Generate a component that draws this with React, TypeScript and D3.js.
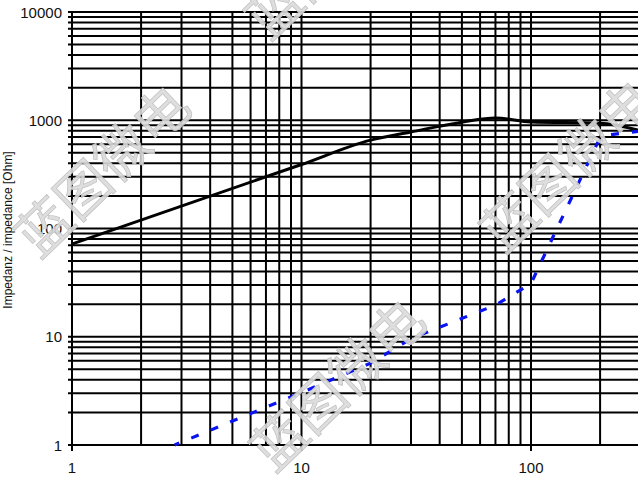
import React from "react";
import * as d3 from "d3";

const W = 638;
const H = 480;

// x: frequency, y: impedance (Ohm)
const solidX = [1, 10, 20, 30, 50, 70, 100, 200, 300];
const solidY = [72, 390, 655, 780, 960, 1050, 965, 940, 800];

const dashX = [2.8, 10, 20, 30, 70, 100, 195, 215, 300];
const dashY = [1, 3.05, 5.7, 9.6, 19.6, 31, 620, 730, 795];

const xTickLabels = [1, 10, 100];
const yTickLabels = [1, 10, 100, 1000, 10000];

const xGrid = [1, 2, 3, 4, 5, 6, 7, 8, 9, 10, 20, 30, 40, 50, 60, 70, 80, 90, 100, 200, 300];
const yGrid = (() => {
  const out: number[] = [];
  [1, 10, 100, 1000].forEach((d) => {
    for (let k = 1; k <= 9; k++) out.push(d * k);
  });
  out.push(10000);
  return out;
})();

const yAxisLabel = "Impedanz / impedance [Ohm]";
const watermarkText = "蓝图微电";
const watermarkCenters = [
  [100, 168],
  [335, 382],
  [565, 163],
  [330, -50],
];

export default function App() {
  const x = d3.scaleLog().domain([1, 300]).range([72, 72 + 229.5 * Math.log10(300)]);
  const y = d3.scaleLog().domain([1, 10000]).range([445, 12]);

  const solidLine = d3
    .line<[number, number]>()
    .x((d) => x(d[0]))
    .y((d) => y(d[1]))
    .curve(d3.curveMonotoneX);

  const dashLine = d3
    .line<[number, number]>()
    .x((d) => x(d[0]))
    .y((d) => y(d[1]));

  const solidPts = solidX.map((v, i) => [v, solidY[i]] as [number, number]);
  const dashPts = dashX.map((v, i) => [v, dashY[i]] as [number, number]);

  const majorX = new Set([1, 10, 100]);

  return (
    <svg
      width={W}
      height={H}
      style={{ position: "absolute", left: 0, top: 0, background: "#fff" }}
      fontFamily="'Liberation Sans', Arial, sans-serif"
    >
      <rect x={0} y={0} width={W} height={H} fill="#fff" />
      {yGrid.map((v) => (
        <line
          key={"h" + v}
          x1={68}
          x2={W}
          y1={y(v)}
          y2={y(v)}
          stroke="#000"
          strokeWidth={2}
        />
      ))}
      {xGrid.map((v) => (
        <line
          key={"v" + v}
          x1={x(v)}
          x2={x(v)}
          y1={y(10000) - 1}
          y2={majorX.has(v) ? 451 : y(1) + 1}
          stroke="#000"
          strokeWidth={2}
        />
      ))}
      <path d={solidLine(solidPts) || ""} fill="none" stroke="#000" strokeWidth={3} strokeLinejoin="round" />
      <path
        d={dashLine(dashPts) || ""}
        fill="none"
        stroke="#0a14f0"
        strokeWidth={3.2}
        strokeDasharray="8,13"
        strokeDashoffset={3}
      />
      {yTickLabels.map((v) => (
        <text key={"yl" + v} x={62} y={y(v) + 5.5} textAnchor="end" fontSize={15} fill="#111">
          {v}
        </text>
      ))}
      {xTickLabels.map((v) => (
        <text key={"xl" + v} x={x(v)} y={473} textAnchor="middle" fontSize={15} fill="#111">
          {v}
        </text>
      ))}
      <text
        transform="translate(12,230) rotate(-90)"
        textAnchor="middle"
        fontSize={12}
        fill="#111"
      >
        {yAxisLabel}
      </text>
      {watermarkCenters.map(([cx, cy], i) => (
        <text
          key={"wm" + i}
          transform={`translate(${cx},${cy}) rotate(-44)`}
          textAnchor="middle"
          dominantBaseline="central"
          fontSize={54}
          fontFamily="'Noto Sans CJK SC', sans-serif"
          fill="#dadada"
          fillOpacity={0.9}
          stroke="#c0c0c0"
          strokeWidth={0.7}
        >
          {watermarkText}
        </text>
      ))}
    </svg>
  );
}
